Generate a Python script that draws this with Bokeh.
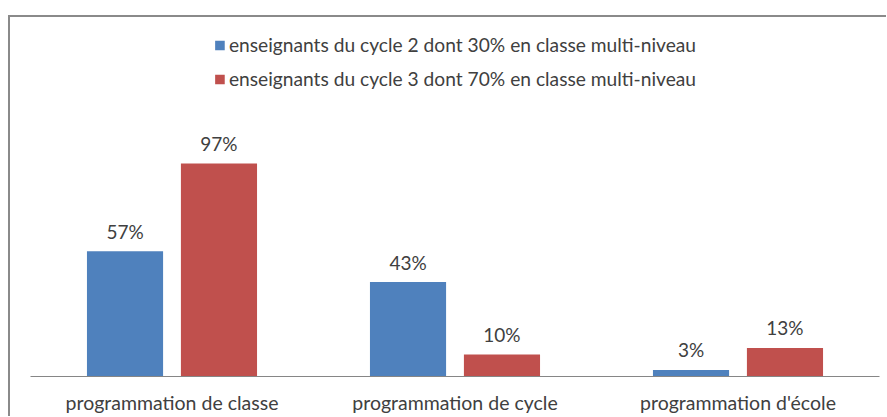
from bokeh.plotting import figure
from bokeh.models import ColumnDataSource, FactorRange, Range1d, Legend, LegendItem, LabelSet
from bokeh.transform import dodge
from bokeh.core.properties import value
from bokeh.embed import file_html
from bokeh.resources import INLINE

categories = ["programmation de classe", "programmation de cycle", "programmation d'école"]
cycle2 = [57, 43, 3]
cycle3 = [97, 10, 13]
series_names = ["enseignants du cycle 2 dont 30% en classe multi-niveau",
                "enseignants du cycle 3 dont 70% en classe multi-niveau"]

FONT = "Lato"
TXT = "#404040"
BLUE = "#4F81BD"
RED = "#C0504D"

src = ColumnDataSource(dict(
    cat=categories,
    c2=cycle2,
    c3=cycle3,
    l2=[f"{v}%" for v in cycle2],
    l3=[f"{v}%" for v in cycle3],
))

p = figure(x_range=FactorRange(factors=categories, range_padding=0),
           y_range=Range1d(0, 163.5),
           frame_width=849, frame_height=359,
           min_border_left=20, min_border_right=7, min_border_top=0, min_border_bottom=0,
           output_backend="svg", toolbar_location=None)
p.margin = (15, 0, 0, 8)
p.styles = {"border-top": "2px solid #8a8a8a", "border-left": "2px solid #8a8a8a"}
p.outline_line_color = None
p.xgrid.visible = False
p.ygrid.visible = False
p.yaxis.visible = False

r2 = p.vbar(x=dodge("cat", -0.166, range=p.x_range), top="c2", width=0.269, source=src,
            fill_color=BLUE, line_color=None)
r3 = p.vbar(x=dodge("cat", 0.166, range=p.x_range), top="c3", width=0.269, source=src,
            fill_color=RED, line_color=None)

for xo, col, key in ((-0.166, "l2", "c2"), (0.166, "l3", "c3")):
    p.add_layout(LabelSet(x=dodge("cat", xo, range=p.x_range), y=key, text=col, source=src,
                          text_align="center", text_baseline="middle", y_offset=20,
                          text_font=value(FONT), text_font_size=value("19px"),
                          text_color=TXT))

xa = p.xaxis[0]
xa.axis_line_color = "#868686"
xa.major_tick_line_color = None
xa.minor_tick_line_color = None
xa.major_tick_out = 0
xa.major_tick_in = 0
xa.major_label_standoff = 14
xa.major_label_text_font = FONT
xa.major_label_text_font_size = "19.5px"
xa.major_label_text_color = TXT

legend = Legend(items=[LegendItem(label=series_names[0], renderers=[r2]),
                       LegendItem(label=series_names[1], renderers=[r3])],
                location="top_center", orientation="vertical",
                glyph_width=12, glyph_height=12, label_standoff=4,
                label_height=22, spacing=11, margin=16, padding=10,
                label_text_font=FONT, label_text_font_size="19.2px", label_text_color=TXT,
                border_line_color=None, background_fill_alpha=0)
p.add_layout(legend)

open("out.html", "w").write(file_html(p, INLINE))
